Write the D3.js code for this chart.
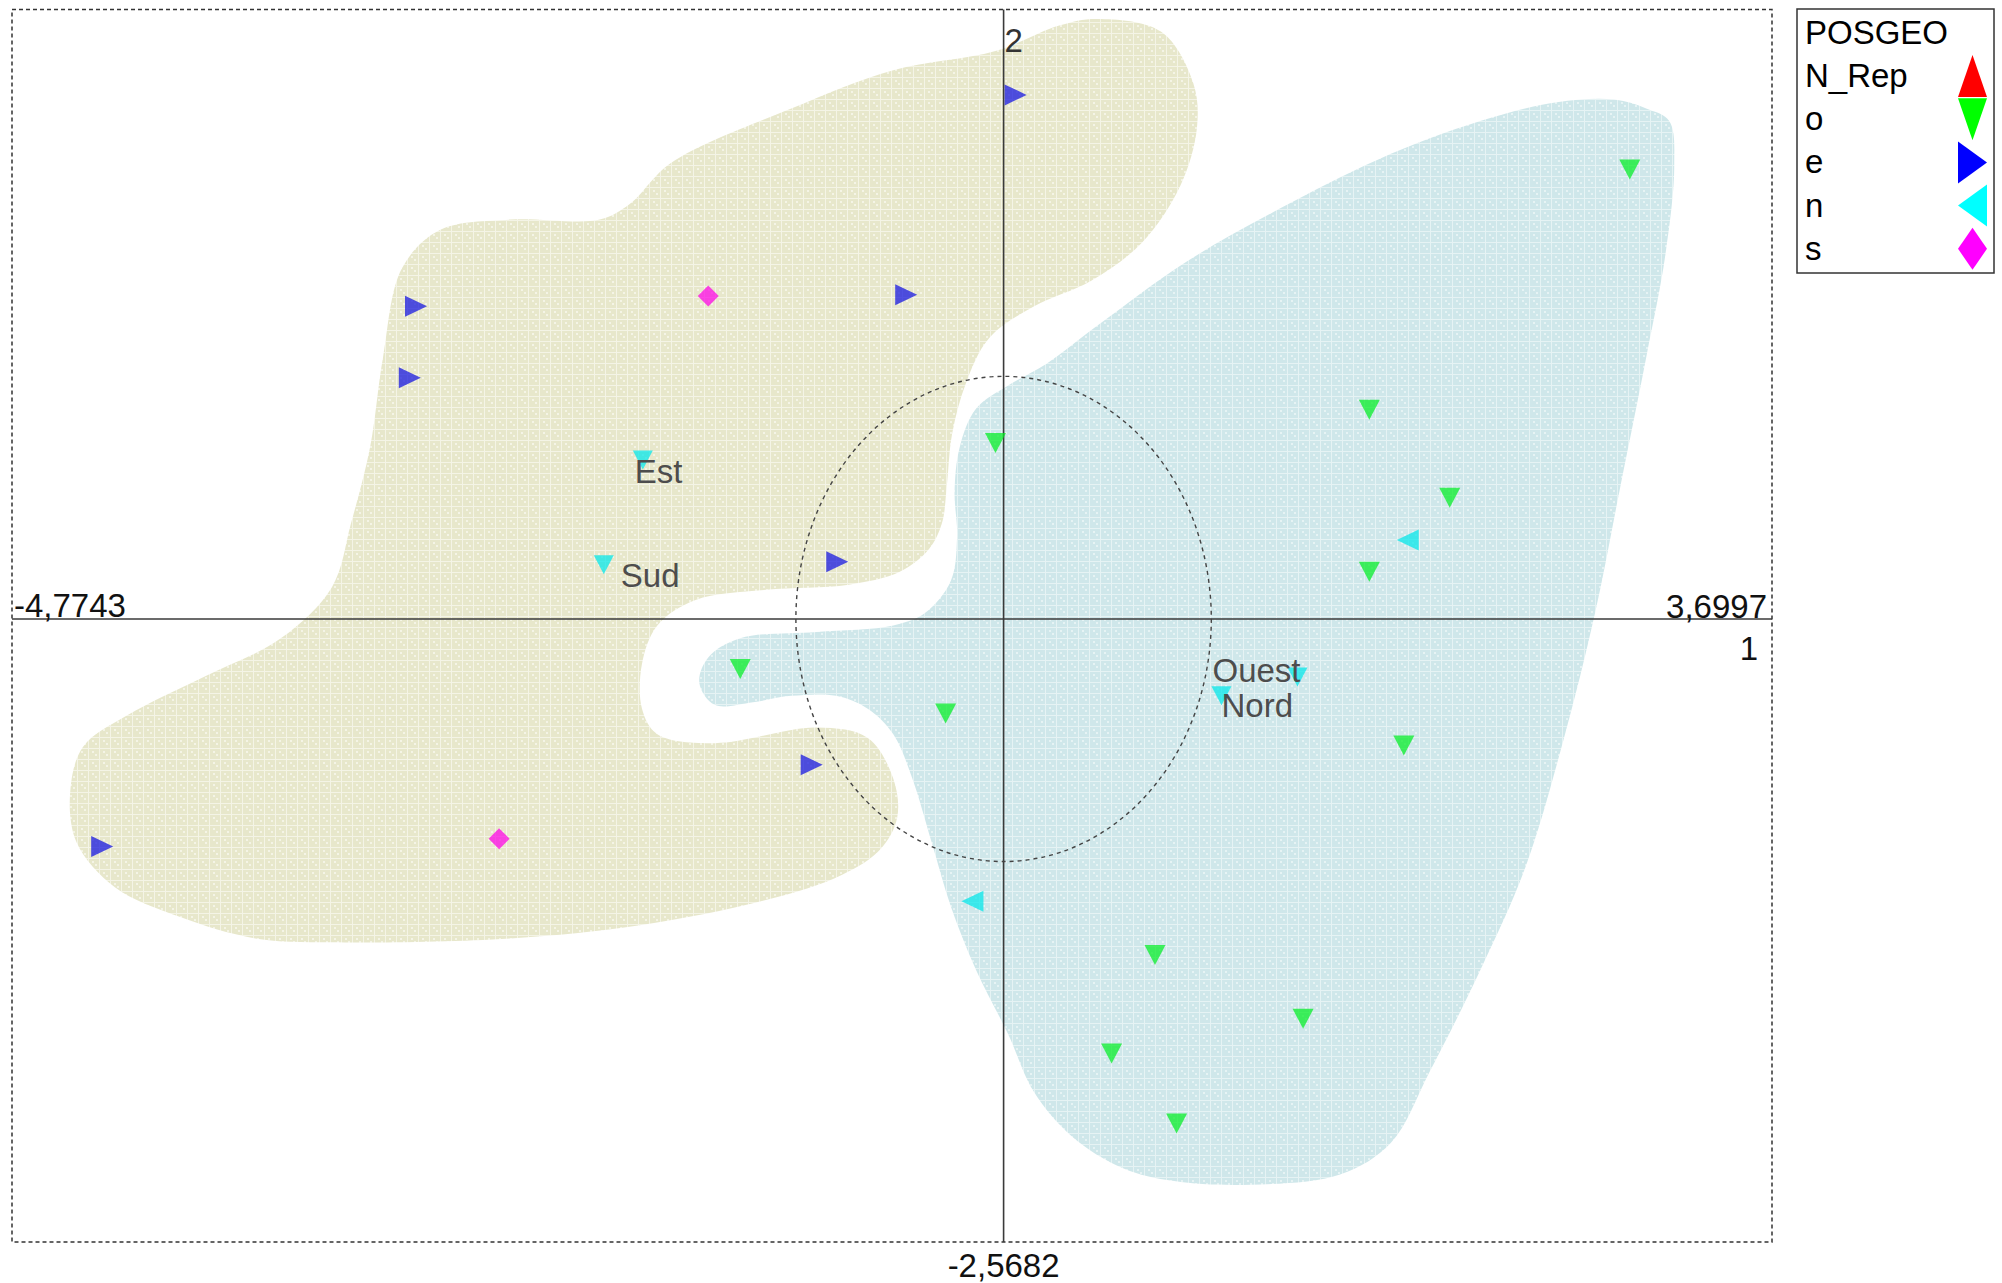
<!DOCTYPE html>
<html>
<head>
<meta charset="utf-8">
<script src="https://cdn.jsdelivr.net/npm/d3@7/dist/d3.min.js"></script>
<style>
  html, body { margin: 0; padding: 0; background: #ffffff; }
  svg { display: block; }
  text { font-family: "Liberation Sans", Arial, sans-serif; }
</style>
</head>
<body>
<svg id="chart" width="2002" height="1283"></svg>
<script>
// ---- Factor map extents (axis 1 horizontal, axis 2 vertical) ----
const xExtent = [-4.7743, 3.6997];
const yExtent = [-2.5682, 2.512];
const axisNames = ["1", "2"];

// ---- Individuals, grouped by POSGEO modality ----
const pointsO = [
  [3.015, 1.852], [1.761, 0.862], [-0.039, 0.725], [2.148, 0.499],
  [1.761, 0.194], [-1.268, -0.206], [-0.279, -0.390], [1.927, -0.522],
  [0.729, -1.385], [1.442, -1.648], [0.520, -1.791], [0.833, -2.080]
];
const pointsE = [
  [0.058, 2.160], [-2.829, 1.289], [-0.469, 1.336], [-2.859, 0.994],
  [-0.801, 0.236], [-0.924, -0.601], [-4.340, -0.938]
];
const pointsN = [[1.946, 0.325], [-0.150, -1.164]];
const pointsS = [[-1.422, 1.331], [-2.429, -0.906]];

// ---- Supplementary category centres ----
const catNames = ["Est", "Sud", "Ouest", "Nord"];
const catX = [-1.737, -1.925, 1.415, 1.049];
const catY = [0.655, 0.223, -0.239, -0.317];

// ---- Legend ----
const legendTitle = "POSGEO";
const legendLabels = ["N_Rep", "o", "e", "n", "s"];
const legendShapes = ["up", "down", "right", "left", "diamond"];
const legendColors = ["#ff0000", "#00ff00", "#0000ff", "#00ffff", "#ff00ff"];

// ---- Cluster envelopes (outline vertices in factor coordinates) ----
const zoneEast = [
  [0.452, 2.473], [0.759, 2.420], [0.913, 2.209], [0.931, 2.025], [0.852, 1.788],
  [0.667, 1.552], [0.422, 1.394], [0.145, 1.288], [-0.070, 1.157], [-0.181, 0.973],
  [-0.248, 0.762], [-0.273, 0.552], [-0.297, 0.394], [-0.359, 0.288], [-0.500, 0.194],
  [-0.746, 0.141], [-1.145, 0.120], [-1.483, 0.078], [-1.667, -0.027], [-1.741, -0.185],
  [-1.741, -0.370], [-1.667, -0.475], [-1.391, -0.512], [-0.899, -0.448], [-0.654, -0.491],
  [-0.531, -0.659], [-0.512, -0.817], [-0.592, -0.948], [-0.777, -1.054], [-1.145, -1.159],
  [-1.760, -1.264], [-2.374, -1.317], [-3.234, -1.333], [-3.603, -1.317], [-3.971, -1.227],
  [-4.279, -1.106], [-4.463, -0.922], [-4.494, -0.712], [-4.432, -0.527], [-4.217, -0.396],
  [-3.849, -0.238], [-3.480, -0.080], [-3.234, 0.131], [-3.142, 0.394], [-3.050, 0.709],
  [-2.988, 1.078], [-2.896, 1.446], [-2.712, 1.604], [-2.374, 1.646], [-1.944, 1.646],
  [-1.800, 1.710], [-1.600, 1.880], [-1.022, 2.104], [-0.531, 2.262], [-0.039, 2.341],
  [0.268, 2.446]
];
const zoneWest = [
  [3.094, 2.104], [3.205, 2.052], [3.229, 1.867], [3.186, 1.499], [3.094, 1.078],
  [2.971, 0.552], [2.848, 0.025], [2.695, -0.501], [2.511, -1.027], [2.295, -1.448],
  [2.050, -1.869], [1.865, -2.159], [1.620, -2.290], [1.190, -2.332], [0.821, -2.317],
  [0.575, -2.264], [0.329, -2.133], [0.145, -1.948], [0.022, -1.712], [-0.132, -1.448],
  [-0.254, -1.185], [-0.346, -0.922], [-0.439, -0.659], [-0.531, -0.475], [-0.654, -0.370],
  [-0.807, -0.317], [-1.022, -0.317], [-1.207, -0.343], [-1.391, -0.354], [-1.465, -0.264],
  [-1.422, -0.159], [-1.268, -0.080], [-0.899, -0.054], [-0.531, -0.027], [-0.377, 0.025],
  [-0.254, 0.157], [-0.224, 0.341], [-0.236, 0.525], [-0.211, 0.709], [-0.132, 0.867],
  [0.022, 0.962], [0.207, 1.052], [0.452, 1.209], [0.882, 1.473], [1.312, 1.683],
  [1.804, 1.894], [2.295, 2.052], [2.664, 2.130], [2.941, 2.141]
];

// ---- Layout ----
const frame = { left: 12, top: 9.5, right: 1772, bottom: 1242 };
const FONT = 33;
const svg = d3.select("#chart");

const x = d3.scaleLinear().domain(xExtent).range([frame.left, frame.right]);
const y = d3.scaleLinear().domain(yExtent).range([frame.bottom, frame.top]);

const fmt = d3.formatLocale({ decimal: ",", thousands: " ", grouping: [3], currency: ["", ""], minus: "-" }).format(".4f");

// marker outline centred on (cx, cy)
function shapePath(type, cx, cy, w, h) {
  const p = d3.path();
  if (type === "up") {
    p.moveTo(cx, cy - h / 2); p.lineTo(cx + w / 2, cy + h / 2); p.lineTo(cx - w / 2, cy + h / 2);
  } else if (type === "down") {
    p.moveTo(cx - w / 2, cy - h / 2); p.lineTo(cx + w / 2, cy - h / 2); p.lineTo(cx, cy + h / 2);
  } else if (type === "right") {
    p.moveTo(cx - w / 2, cy - h / 2); p.lineTo(cx + w / 2, cy); p.lineTo(cx - w / 2, cy + h / 2);
  } else if (type === "left") {
    p.moveTo(cx + w / 2, cy - h / 2); p.lineTo(cx - w / 2, cy); p.lineTo(cx + w / 2, cy + h / 2);
  } else {
    p.moveTo(cx, cy - h / 2); p.lineTo(cx + w / 2, cy); p.lineTo(cx, cy + h / 2); p.lineTo(cx - w / 2, cy);
  }
  p.closePath();
  return p.toString();
}

// ---- Textured fills for the envelopes ----
const defs = svg.append("defs");
function texture(id, base, light) {
  const pat = defs.append("pattern").attr("id", id)
    .attr("patternUnits", "userSpaceOnUse").attr("width", 11).attr("height", 11);
  pat.append("rect").attr("width", 11).attr("height", 11).attr("fill", base);
  pat.append("rect").attr("x", 0).attr("y", 0).attr("width", 11).attr("height", 1).attr("fill", light);
  pat.append("rect").attr("x", 0).attr("y", 0).attr("width", 1).attr("height", 11).attr("fill", light);
  pat.append("rect").attr("x", 4).attr("y", 3).attr("width", 2).attr("height", 2).attr("fill", light);
  pat.append("rect").attr("x", 7).attr("y", 6).attr("width", 2).attr("height", 2).attr("fill", light);
}
texture("texEast", "#e7e7cb", "#f4f4e6");
texture("texWest", "#cfe7ea", "#e6f3f4");

// ---- Frame ----
svg.append("rect")
  .attr("x", frame.left).attr("y", frame.top)
  .attr("width", frame.right - frame.left).attr("height", frame.bottom - frame.top)
  .attr("fill", "none").attr("stroke", "#333").attr("stroke-width", 1.5)
  .attr("stroke-dasharray", "4,3");

// ---- Envelopes ----
const outline = d3.line().x(d => x(d[0])).y(d => y(d[1])).curve(d3.curveCatmullRomClosed.alpha(0.5));
svg.append("path").attr("d", outline(zoneEast)).attr("fill", "url(#texEast)");
svg.append("path").attr("d", outline(zoneWest)).attr("fill", "url(#texWest)");

// ---- Axes through the origin ----
svg.append("line")
  .attr("x1", x(xExtent[0])).attr("x2", x(xExtent[1]))
  .attr("y1", y(0)).attr("y2", y(0))
  .attr("stroke", "#3a3a3a").attr("stroke-width", 1.6);
svg.append("line")
  .attr("x1", x(0)).attr("x2", x(0))
  .attr("y1", y(yExtent[0])).attr("y2", y(yExtent[1]))
  .attr("stroke", "#3a3a3a").attr("stroke-width", 1.6);

// ---- Unit correlation circle ----
svg.append("ellipse")
  .attr("cx", x(0)).attr("cy", y(0))
  .attr("rx", x(1) - x(0)).attr("ry", y(0) - y(1))
  .attr("fill", "none").attr("stroke", "#444").attr("stroke-width", 1.4)
  .attr("stroke-dasharray", "4,4");

// ---- Axis extent labels and axis names ----
const lab = svg.append("g").attr("font-size", FONT).attr("fill", "#111");
lab.append("text").attr("x", x(xExtent[0]) + 2).attr("y", y(0) - 2).text(fmt(xExtent[0]));
lab.append("text").attr("x", x(xExtent[1]) - 5).attr("y", y(0) - 1)
  .attr("text-anchor", "end").text(fmt(xExtent[1]));
lab.append("text").attr("x", x(0)).attr("y", frame.bottom + 35)
  .attr("text-anchor", "middle").text(fmt(yExtent[0]));
lab.append("text").attr("x", x(xExtent[1]) - 14).attr("y", y(0) + 41)
  .attr("text-anchor", "end").text(axisNames[0]);
lab.append("text").attr("x", x(0) + 1).attr("y", y(yExtent[1]) + 42)
  .attr("fill", "#333").text(axisNames[1]);

// ---- Individuals ----
const groups = [
  { pts: pointsO, shape: "down", color: "#00ee22", w: 21, h: 20 },
  { pts: pointsE, shape: "right", color: "#1010e0", w: 22, h: 21 },
  { pts: pointsN, shape: "left", color: "#00e8ea", w: 22, h: 21 },
  { pts: pointsS, shape: "diamond", color: "#ff00e8", w: 21, h: 21 }
];
groups.forEach(g => {
  svg.append("g").selectAll("path").data(g.pts).join("path")
    .attr("d", d => shapePath(g.shape, x(d[0]), y(d[1]), g.w, g.h))
    .attr("fill", g.color).attr("fill-opacity", 0.72);
});

// ---- Supplementary categories ----
const catOffset = { "Est": [-8, 23], "Sud": [17, 22], "Ouest": [-85, 5], "Nord": [0, 21] };
const cats = catNames.map((n, i) => ({ name: n, cx: catX[i], cy: catY[i] }));
svg.append("g").selectAll("path").data(cats).join("path")
  .attr("d", d => shapePath("down", x(d.cx), y(d.cy), 20, 19))
  .attr("fill", "#00e8ea").attr("fill-opacity", 0.72);
svg.append("g").attr("font-size", FONT).attr("fill", "#4d4d4d")
  .selectAll("text").data(cats).join("text")
  .attr("x", d => x(d.cx) + catOffset[d.name][0])
  .attr("y", d => y(d.cy) + catOffset[d.name][1])
  .text(d => d.name);

// ---- Legend ----
const lg = svg.append("g");
lg.append("rect").attr("x", 1797).attr("y", 9).attr("width", 197).attr("height", 264)
  .attr("fill", "#fff").attr("stroke", "#333").attr("stroke-width", 1.5);
lg.append("text").attr("x", 1805).attr("y", 44).attr("font-size", FONT).attr("fill", "#000").text(legendTitle);
const rowStep = 43.2;
legendLabels.forEach((l, i) => {
  const base = 87 + i * rowStep;
  lg.append("text").attr("x", 1805).attr("y", base).attr("font-size", FONT).attr("fill", "#000").text(l);
  lg.append("path").attr("d", shapePath(legendShapes[i], 1972.5, base - 11, 29, 42))
    .attr("fill", legendColors[i]);
});
</script>
</body>
</html>
